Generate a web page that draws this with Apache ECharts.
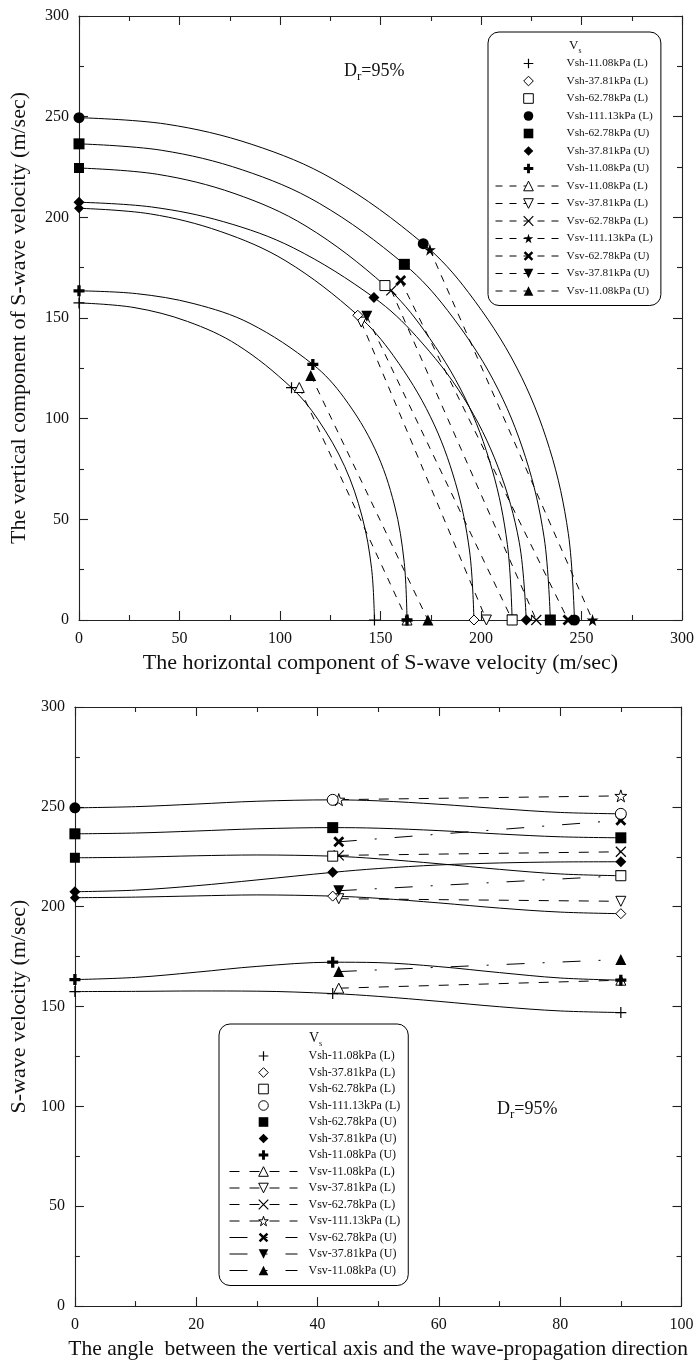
<!DOCTYPE html>
<html>
<head>
<meta charset="utf-8">
<script src="https://cdn.jsdelivr.net/npm/echarts@6/dist/echarts.min.js"></script>
<style>
  html, body { margin: 0; padding: 0; background: #fff; }
  #upper { width: 697px; height: 690px; }
  #lower { width: 697px; height: 675px; }
</style>
</head>
<body>
<div id="upper"></div>
<div id="lower"></div>
<script>
// ---- measured S-wave velocities (m/sec) ----
// Vsh markers at propagation angles 0, 42.5 and 90 degrees
const vshAngles = [0, 42.5, 90];
const vsh_11_L  = [157.5, 156.5, 147.0];
const vsh_37_L  = [204.5, 205.3, 196.5];
const vsh_62_L  = [224.5, 225.3, 215.5];
const vsh_111_L = [249.5, 253.5, 246.5];
const vsh_62_U  = [236.5, 239.6, 234.5];
const vsh_37_U  = [207.5, 217.2, 222.5];
const vsh_11_U  = [163.5, 172.2, 163.2];

// Vsv markers at 43.5 and 90 degrees
const vsvAngles = [43.5, 90];
const vsv_11_L  = [159.2, 163.2];
const vsv_37_L  = [204.0, 202.7];
const vsv_62_L  = [225.7, 227.5];
const vsv_111_L = [253.6, 255.5];
const vsv_62_U  = [232.5, 243.3];
const vsv_37_U  = [208.0, 215.5];
const vsv_11_U  = [167.5, 173.6];

// Vsh fitted curves
const traceAngles = [0, 10, 20, 30, 42.5, 50, 60, 70, 80, 90];
const trace_11_L  = [157.5, 157.6, 157.8, 157.7, 156.5, 155.1, 152.6, 149.9, 147.8, 147.0];
const trace_37_L  = [204.5, 204.8, 205.4, 205.9, 205.3, 204.2, 201.9, 199.3, 197.3, 196.5];
const trace_62_L  = [224.5, 224.8, 225.5, 225.9, 225.3, 224.0, 221.5, 218.7, 216.4, 215.5];
const trace_111_L = [249.5, 250.1, 251.4, 252.8, 253.5, 253.0, 251.3, 249.1, 247.2, 246.5];
const trace_62_U  = [236.5, 236.9, 237.9, 239.0, 239.6, 239.3, 238.1, 236.4, 235.0, 234.5];
const trace_37_U  = [207.5, 208.3, 210.5, 213.4, 217.2, 219.1, 220.9, 221.9, 222.4, 222.5];
const trace_11_U  = [163.5, 164.6, 167.2, 170.1, 172.2, 172.0, 170.0, 167.0, 164.3, 163.2];

// axis ticks
const upperTicks = { min: 0, max: 300, interval: 50 };
const lowerXTicks = { min: 0, max: 100, interval: 20 };
const lowerYTicks = { min: 0, max: 300, interval: 50 };

// ---- drawing styles ----
const FONT = 'Liberation Serif';
const INK = '#000';
const SYM = {
  thinPlus: 'path://M5,0V10M0,5H10',
  boldPlus: 'path://M3.5,0H6.5V3.5H10V6.5H6.5V10H3.5V6.5H0V3.5H3.5Z',
  thinCross: 'path://M0,0L10,10M10,0L0,10',
  boldCross: 'path://M0,1.8L1.8,0L5,3.2L8.2,0L10,1.8L6.8,5L10,8.2L8.2,10L5,6.8L1.8,10L0,8.2L3.2,5Z',
  star: 'path://M5,0L6.18,3.6L10,3.6L6.9,5.85L8.1,9.5L5,7.25L1.9,9.5L3.1,5.85L0,3.6L3.82,3.6Z',
  triUp: 'path://M5,0L10,8.7H0Z',
  triDown: 'path://M0,0H10L5,8.7Z',
  circle: 'circle', square: 'rect', diamond: 'diamond'
};
const OPEN = { color: '#fff', borderColor: INK, borderWidth: 1 };
const SOLID = { color: INK, borderColor: INK, borderWidth: 0 };
const STROKE = { color: 'rgba(0,0,0,0)', borderColor: INK, borderWidth: 1.2 };

// Vsh entries (markers + fitted solid curve)
const vshSet = [
  { name: 'Vsh-11.08kPa (L)',  v: vsh_11_L,  trace: trace_11_L,  sym: 'thinPlus', size: 11, up: STROKE, lo: STROKE, fill0: false },
  { name: 'Vsh-37.81kPa (L)',  v: vsh_37_L,  trace: trace_37_L,  sym: 'diamond',  size: 10, up: OPEN,   lo: OPEN,   fill0: true },
  { name: 'Vsh-62.78kPa (L)',  v: vsh_62_L,  trace: trace_62_L,  sym: 'square',   size: 10, up: OPEN,   lo: OPEN,   fill0: true },
  { name: 'Vsh-111.13kPa (L)', v: vsh_111_L, trace: trace_111_L, sym: 'circle',   size: 11, up: SOLID,  lo: OPEN,   fill0: true },
  { name: 'Vsh-62.78kPa (U)',  v: vsh_62_U,  trace: trace_62_U,  sym: 'square',   size: 11, up: SOLID,  lo: SOLID,  fill0: false },
  { name: 'Vsh-37.81kPa (U)',  v: vsh_37_U,  trace: trace_37_U,  sym: 'diamond',  size: 11, up: SOLID,  lo: SOLID,  fill0: false },
  { name: 'Vsh-11.08kPa (U)',  v: vsh_11_U,  trace: trace_11_U,  sym: 'boldPlus', size: 11, up: SOLID,  lo: SOLID,  fill0: false }
];
// Vsv entries (markers joined by broken lines)
const vsvSet = [
  { name: 'Vsv-11.08kPa (L)',  v: vsv_11_L,  sym: 'triUp',     size: 10, up: OPEN,   lo: OPEN,   dash: 'L' },
  { name: 'Vsv-37.81kPa (L)',  v: vsv_37_L,  sym: 'triDown',   size: 10, up: OPEN,   lo: OPEN,   dash: 'L' },
  { name: 'Vsv-62.78kPa (L)',  v: vsv_62_L,  sym: 'thinCross', size: 10, up: STROKE, lo: STROKE, dash: 'L' },
  { name: 'Vsv-111.13kPa (L)', v: vsv_111_L, sym: 'star',      size: 12, up: SOLID,  lo: OPEN,   dash: 'L' },
  { name: 'Vsv-62.78kPa (U)',  v: vsv_62_U,  sym: 'boldCross', size: 11, up: SOLID,  lo: SOLID,  dash: 'U' },
  { name: 'Vsv-37.81kPa (U)',  v: vsv_37_U,  sym: 'triDown',   size: 11, up: SOLID,  lo: SOLID,  dash: 'U' },
  { name: 'Vsv-11.08kPa (U)',  v: vsv_11_U,  sym: 'triUp',     size: 11, up: SOLID,  lo: SOLID,  dash: 'U' }
];

const DEG = Math.PI / 180;
// velocity surface: a velocity at an angle from the vertical becomes (horizontal, vertical) components
function components(angle, v) {
  return [v * Math.sin(angle * DEG), v * Math.cos(angle * DEG)];
}

function frameAxis(ticks, pos, extra) {
  return Object.assign({
    type: 'value', position: pos, min: ticks.min, max: ticks.max, interval: ticks.interval,
    axisLine: { show: true, onZero: false, lineStyle: { color: '#222', width: 1.1 } },
    axisTick: { show: true, inside: true, length: 9, lineStyle: { color: '#222', width: 1.1 } },
    minorTick: { show: true, splitNumber: 2, length: 5, lineStyle: { color: '#222', width: 1.1 } },
    splitLine: { show: false },
    minorSplitLine: { show: false },
    axisLabel: { show: false }
  }, extra || {});
}
const tickLabel = { show: true, color: '#111', fontFamily: FONT, fontSize: 16 };
const nameStyle = { color: '#111', fontFamily: FONT, fontSize: 22 };

function legendBlock(left, top, names, look) {
  return {
    orient: 'vertical', left: left, top: top,
    data: names,
    selectedMode: false,
    itemWidth: look.iconWidth, itemHeight: 12, itemGap: look.gap,
    padding: [26, 8, 9, look.padLeft],
    borderColor: '#000', borderWidth: 1, borderRadius: 11,
    backgroundColor: '#fff',
    textStyle: { fontFamily: FONT, fontSize: look.font, color: '#111', padding: [0, 0, 0, look.textPad] },
    lineStyle: { width: 'inherit' },
    itemStyle: { borderWidth: 'inherit' }
  };
}

function vsTitle(x, y, size) {
  return {
    type: 'text', left: x, top: y, z: 100,
    style: {
      text: '{v|V}{s|s}',
      rich: {
        v: { fontFamily: FONT, fontSize: size, fill: '#111', verticalAlign: 'top' },
        s: { fontFamily: FONT, fontSize: size * 0.6, fill: '#111', verticalAlign: 'top', padding: [size * 0.62, 0, 0, 0] }
      }
    }
  };
}
function densityNote(x, y) {
  return {
    type: 'text', left: x, top: y, z: 100,
    style: {
      text: '{d|D}{r|r}{d|=95%}',
      rich: {
        d: { fontFamily: FONT, fontSize: 18, fill: '#111', verticalAlign: 'top' },
        r: { fontFamily: FONT, fontSize: 13, fill: '#111', verticalAlign: 'top', padding: [8, 0, 0, 0] }
      }
    }
  };
}

// ---------- upper chart: velocity components ----------
function upperSeries() {
  const out = [];
  vshSet.forEach(s => {
    out.push({
      type: 'line', name: s.name + ' curve', smooth: 0.35, symbol: 'none', silent: true,
      lineStyle: { color: INK, width: 1 }, z: 2,
      data: traceAngles.map((a, i) => components(a, s.trace[i]))
    });
  });
  vshSet.forEach(s => {
    out.push({
      type: 'line', name: s.name, symbol: SYM[s.sym], symbolSize: s.size,
      lineStyle: { width: 0 }, itemStyle: s.up, z: 5,
      data: vshAngles.map((a, i) => {
        const item = { value: components(a, s.v[i]) };
        if (i === 0 && s.fill0) item.itemStyle = SOLID;
        return item;
      })
    });
  });
  vsvSet.forEach(s => {
    out.push({
      type: 'line', name: s.name, symbol: SYM[s.sym], symbolSize: s.size,
      lineStyle: { color: INK, width: 1, type: [7, 7] }, itemStyle: s.up, z: 4,
      data: vsvAngles.map((a, i) => components(a, s.v[i]))
    });
  });
  return out;
}

const upper = echarts.init(document.getElementById('upper'));
upper.setOption({
  animation: false,
  backgroundColor: '#fff',
  grid: { left: 78, top: 16, width: 604, height: 604 },
  xAxis: [
    frameAxis(upperTicks, 'bottom', {
      axisLabel: Object.assign({ margin: 11 }, tickLabel),
      name: 'The horizontal component of S-wave velocity (m/sec)',
      nameLocation: 'middle', nameGap: 31, nameTextStyle: nameStyle
    }),
    frameAxis(upperTicks, 'top')
  ],
  yAxis: [
    frameAxis(upperTicks, 'left', {
      axisLabel: Object.assign({ margin: 10 }, tickLabel),
      name: 'The vertical component of S-wave velocity (m/sec)',
      nameLocation: 'middle', nameGap: 49, nameTextStyle: nameStyle
    }),
    frameAxis(upperTicks, 'right')
  ],
  legend: legendBlock(488, 32, vshSet.concat(vsvSet).map(s => s.name),
                      { iconWidth: 66, gap: 6.5, padLeft: 7, font: 11.3, textPad: 0 }),
  graphic: [vsTitle(569, 39, 13), densityNote(344, 62)],
  series: upperSeries()
});

// ---------- lower chart: velocity versus propagation angle ----------
const dashL = [10, 10];
const dashU = [18, 18, 2, 18];
function lowerSeries() {
  const out = [];
  vshSet.forEach(s => {
    out.push({
      type: 'line', name: s.name + ' curve', smooth: 0.35, symbol: 'none', silent: true,
      lineStyle: { color: INK, width: 1 }, z: 2,
      data: traceAngles.map((a, i) => [a, s.trace[i]])
    });
  });
  vshSet.forEach(s => {
    out.push({
      type: 'line', name: s.name, symbol: SYM[s.sym], symbolSize: s.size,
      lineStyle: { width: 0 }, itemStyle: s.lo, z: 5,
      data: vshAngles.map((a, i) => {
        const item = { value: [a, s.v[i]] };
        if (i === 0 && s.fill0) item.itemStyle = SOLID;
        return item;
      })
    });
  });
  vsvSet.forEach(s => {
    out.push({
      type: 'line', name: s.name, symbol: SYM[s.sym], symbolSize: s.size,
      lineStyle: { color: INK, width: 1, type: s.dash === 'L' ? dashL : dashU }, itemStyle: s.lo, z: 4,
      data: vsvAngles.map((a, i) => [a, s.v[i]])
    });
  });
  return out;
}

const lower = echarts.init(document.getElementById('lower'));
lower.setOption({
  animation: false,
  backgroundColor: '#fff',
  grid: { left: 73.5, top: 17, width: 608, height: 604 },
  xAxis: [
    frameAxis(lowerXTicks, 'bottom', {
      axisLabel: Object.assign({ margin: 11 }, tickLabel),
      name: 'The angle  between the vertical axis and the wave-propagation direction',
      nameLocation: 'middle', nameGap: 27,
      nameTextStyle: Object.assign({}, nameStyle, { fontSize: 21.5 })
    }),
    frameAxis(lowerXTicks, 'top')
  ],
  yAxis: [
    frameAxis(lowerYTicks, 'left', {
      axisLabel: Object.assign({ margin: 10 }, tickLabel),
      name: 'S-wave velocity (m/sec)',
      nameLocation: 'middle', nameGap: 40, nameTextStyle: nameStyle
    }),
    frameAxis(lowerYTicks, 'right')
  ],
  legend: legendBlock(219, 334, vshSet.concat(vsvSet).map(s => s.name),
                      { iconWidth: 68, gap: 4.5, padLeft: 10, font: 12, textPad: 6 }),
  graphic: [vsTitle(309, 341, 14), densityNote(497, 410)],
  series: lowerSeries()
});
</script>
</body>
</html>
